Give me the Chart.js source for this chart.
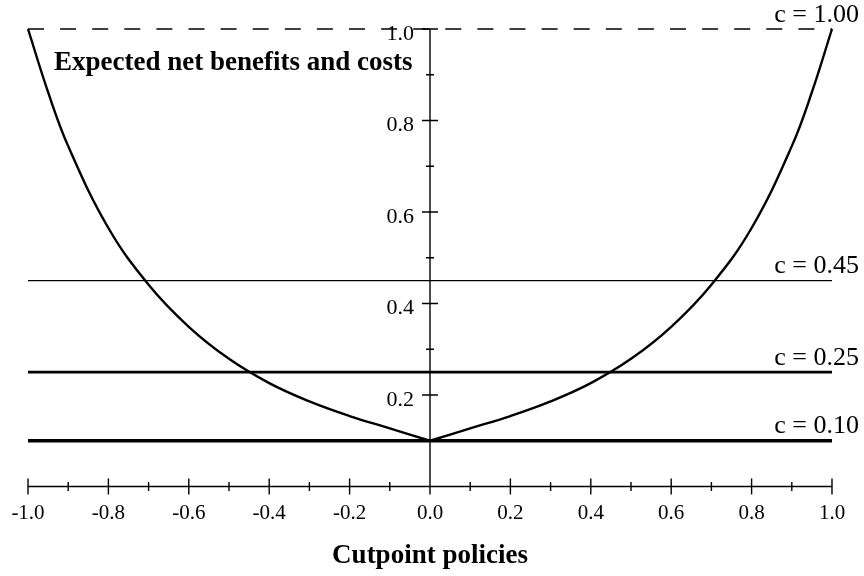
<!DOCTYPE html>
<html>
<head>
<meta charset="utf-8">
<script src="https://cdn.jsdelivr.net/npm/chart.js@4/dist/chart.umd.min.js"></script>
<style>
  html, body { margin: 0; padding: 0; background: #fff; }
</style>
</head>
<body>
<canvas id="chart" width="864" height="576"></canvas>
<script>
// cutpoint policy (x) and expected net benefit (y)
const leftCutpoints = [-1.0, -0.95, -0.9, -0.8, -0.7, -0.6, -0.5, -0.4, -0.3, -0.2, -0.1, 0.0];
const leftBenefit   = [1.00, 0.862, 0.744, 0.565, 0.441, 0.349, 0.279, 0.226, 0.186, 0.154, 0.127, 0.10];
const rightCutpoints = [0.0, 0.1, 0.2, 0.3, 0.4, 0.5, 0.6, 0.7, 0.8, 0.9, 0.95, 1.0];
const rightBenefit   = [0.10, 0.127, 0.154, 0.186, 0.226, 0.279, 0.349, 0.441, 0.565, 0.744, 0.862, 1.00];

// cost levels drawn as horizontal lines
const costValues = [1.00, 0.45, 0.25, 0.10];
const costLabels = ['c = 1.00', 'c = 0.45', 'c = 0.25', 'c = 0.10'];
const costWidths = [1.5, 1.2, 2.6, 3.6];

// axis ticks
const xMajorTicks = [-1.0, -0.8, -0.6, -0.4, -0.2, 0.0, 0.2, 0.4, 0.6, 0.8, 1.0];
const xTickLabels = ['-1.0', '-0.8', '-0.6', '-0.4', '-0.2', '0.0', '0.2', '0.4', '0.6', '0.8', '1.0'];
const xMinorTicks = [-0.9, -0.7, -0.5, -0.3, -0.1, 0.1, 0.3, 0.5, 0.7, 0.9];
const yMajorTicks = [0.2, 0.4, 0.6, 0.8, 1.0];
const yTickLabels = ['0.2', '0.4', '0.6', '0.8', '1.0'];
const yMinorTicks = [0.1, 0.3, 0.5, 0.7, 0.9];

const SERIF = '"Liberation Serif", "Times New Roman", serif';

function toPoints(xs, ys) {
  return xs.map((x, i) => ({ x: x, y: ys[i] }));
}

const datasets = [
  { data: toPoints(leftCutpoints, leftBenefit), borderColor: '#000', borderWidth: 2.4, tension: 0.4 },
  { data: toPoints(rightCutpoints, rightBenefit), borderColor: '#000', borderWidth: 2.4, tension: 0.4 }
];
costValues.forEach((c, i) => {
  datasets.push({
    data: [{ x: -1, y: c }, { x: 1, y: c }],
    borderColor: '#000',
    borderWidth: costWidths[i],
    borderDash: i === 0 ? [16, 16.1] : [],
    tension: 0
  });
});
datasets.forEach(d => { d.pointRadius = 0; d.clip = false; d.fill = false; });

const axesPlugin = {
  id: 'crossAxes',
  beforeDatasetsDraw(chart) {
    const ctx = chart.ctx;
    const xs = chart.scales.x, ys = chart.scales.y;
    const x0 = xs.getPixelForValue(0);
    const y0 = ys.getPixelForValue(0);
    ctx.save();
    ctx.strokeStyle = '#000';
    ctx.lineWidth = 1.4;
    ctx.beginPath();
    // x axis
    ctx.moveTo(xs.getPixelForValue(-1), y0);
    ctx.lineTo(xs.getPixelForValue(1), y0);
    // y axis
    ctx.moveTo(x0, ys.getPixelForValue(1));
    ctx.lineTo(x0, y0 + 8);
    xMajorTicks.forEach(v => {
      const p = xs.getPixelForValue(v);
      ctx.moveTo(p, y0 - 8); ctx.lineTo(p, y0 + 8);
    });
    xMinorTicks.forEach(v => {
      const p = xs.getPixelForValue(v);
      ctx.moveTo(p, y0 - 4.5); ctx.lineTo(p, y0 + 4.5);
    });
    yMajorTicks.forEach(v => {
      const p = ys.getPixelForValue(v);
      ctx.moveTo(x0 - 8, p); ctx.lineTo(x0 + 8, p);
    });
    yMinorTicks.forEach(v => {
      const p = ys.getPixelForValue(v);
      ctx.moveTo(x0 - 4, p); ctx.lineTo(x0 + 4, p);
    });
    ctx.stroke();

    ctx.fillStyle = '#000';
    ctx.font = '21px ' + SERIF;
    ctx.textAlign = 'center';
    ctx.textBaseline = 'alphabetic';
    xMajorTicks.forEach((v, i) => {
      ctx.fillText(xTickLabels[i], xs.getPixelForValue(v), y0 + 32);
    });
    ctx.font = '22px ' + SERIF;
    ctx.textAlign = 'right';
    yMajorTicks.forEach((v, i) => {
      ctx.fillText(yTickLabels[i], x0 - 16, ys.getPixelForValue(v) + 10.7);
    });
    ctx.restore();
  },
  afterDraw(chart) {
    const ctx = chart.ctx;
    const xs = chart.scales.x, ys = chart.scales.y;
    ctx.save();
    ctx.fillStyle = '#000';
    ctx.textBaseline = 'alphabetic';
    ctx.font = '26px ' + SERIF;
    ctx.textAlign = 'right';
    costValues.forEach((c, i) => {
      ctx.fillText(costLabels[i], 859, ys.getPixelForValue(c) - 7.5);
    });
    ctx.font = 'bold 27px ' + SERIF;
    ctx.textAlign = 'left';
    ctx.fillText('Expected net benefits and costs', 54, 70);
    ctx.textAlign = 'center';
    ctx.fillText('Cutpoint policies', xs.getPixelForValue(0), 563);
    ctx.restore();
  }
};

new Chart(document.getElementById('chart'), {
  type: 'line',
  data: { datasets: datasets },
  options: {
    responsive: false,
    animation: false,
    events: [],
    layout: { padding: { left: 28, right: 32, top: 29, bottom: 89.5 } },
    plugins: { legend: { display: false }, tooltip: { enabled: false } },
    scales: {
      x: { type: 'linear', min: -1, max: 1, display: false },
      y: { type: 'linear', min: 0, max: 1, display: false }
    }
  },
  plugins: [axesPlugin]
});
</script>
</body>
</html>
